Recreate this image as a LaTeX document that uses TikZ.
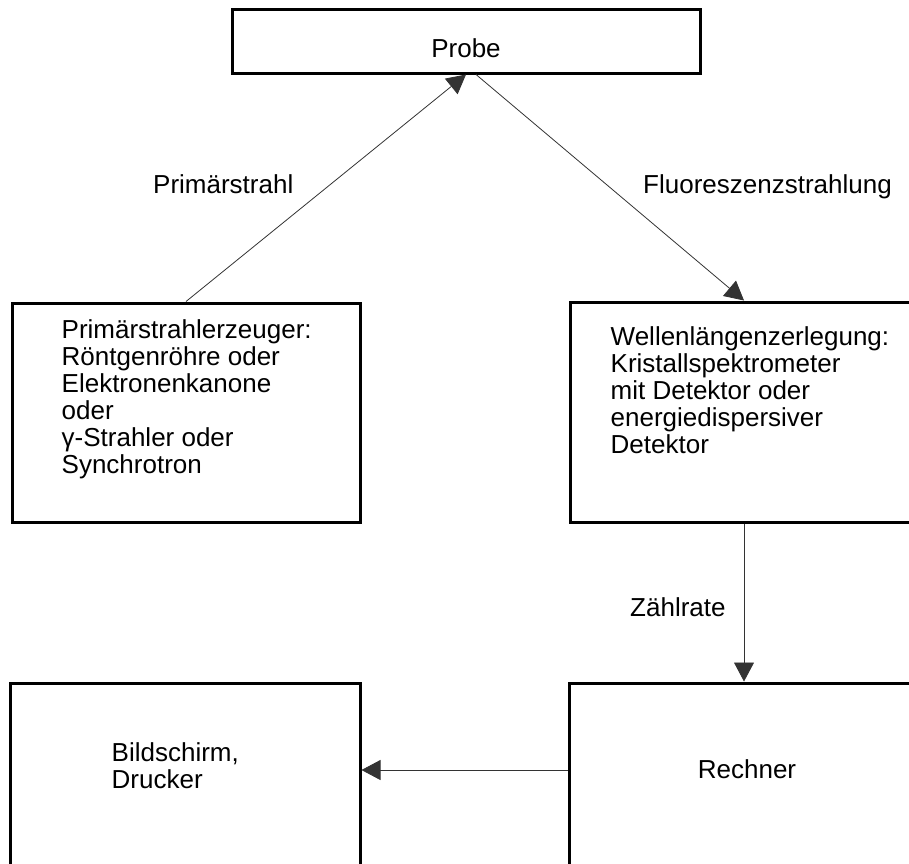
\documentclass[tikz,border=0pt]{standalone}
\usepackage{fontspec}
\setmainfont{Liberation Sans}
\usetikzlibrary{arrows.meta,positioning}

\begin{document}
\begin{tikzpicture}
    [ x=1pt, y=-1pt
    , box/.style={draw, line width=3pt, inner sep=0pt}
    , txt/.style={align=left, inner sep=0pt, font=\fontsize{26}{27}\selectfont}
    , flow/.style={draw=black!80, line width=0.8pt, -{Triangle[length=19pt,width=20pt]}}
    ]
\useasboundingbox (0,0) rectangle (909,863);
% boxes
\node[box, minimum width=468, minimum height=64] (probe) at (466,41) {};
\node[box, minimum width=348, minimum height=219] (source) at (186,412.5) {};
\node[box, minimum width=348, minimum height=220] (analyser) at (744,412) {};
\node[box, minimum width=350, minimum height=200] (display) at (185,783) {};
\node[box, minimum width=350, minimum height=200] (computer) at (744,783) {};
% texts in the boxes
\node[txt, anchor=base] (probetext) at (466,57) {Probe};
\node[txt, below right=18pt and 51pt of source.north west] (sourcetext)
    {Primärstrahlerzeuger:\\Röntgenröhre oder\\Elektronenkanone\\oder\\γ-Strahler oder\\Synchrotron};
\node[txt, below right=26pt and 42pt of analyser.north west] (analysertext)
    {Wellenlängenzerlegung:\\Kristallspektrometer\\mit Detektor oder\\energiedispersiver\\Detektor};
\node[txt, below right=61pt and 103pt of display.north west] (displaytext)
    {Bildschirm,\\Drucker};
\node[txt, anchor=base] (computertext) at (747,778) {Rechner};
% labels
\node[txt, anchor=base west] (primary) at (153,193) {Primärstrahl};
\node[txt, anchor=base west] (fluor) at (643,193) {Fluoreszenzstrahlung};
\node[txt, anchor=base west] (rate) at (630,616) {Zählrate};
% connectors
\draw[flow] (source.north) -- (probe.south);
\draw[flow] ([xshift=10pt]probe.south) -- (analyser.north);
\draw[flow] (analyser.south) -- (computer.north);
\draw[flow] ([yshift=13pt]computer.west) -- ([yshift=13pt]computer.west -| display.east);
\end{tikzpicture}
\end{document}
